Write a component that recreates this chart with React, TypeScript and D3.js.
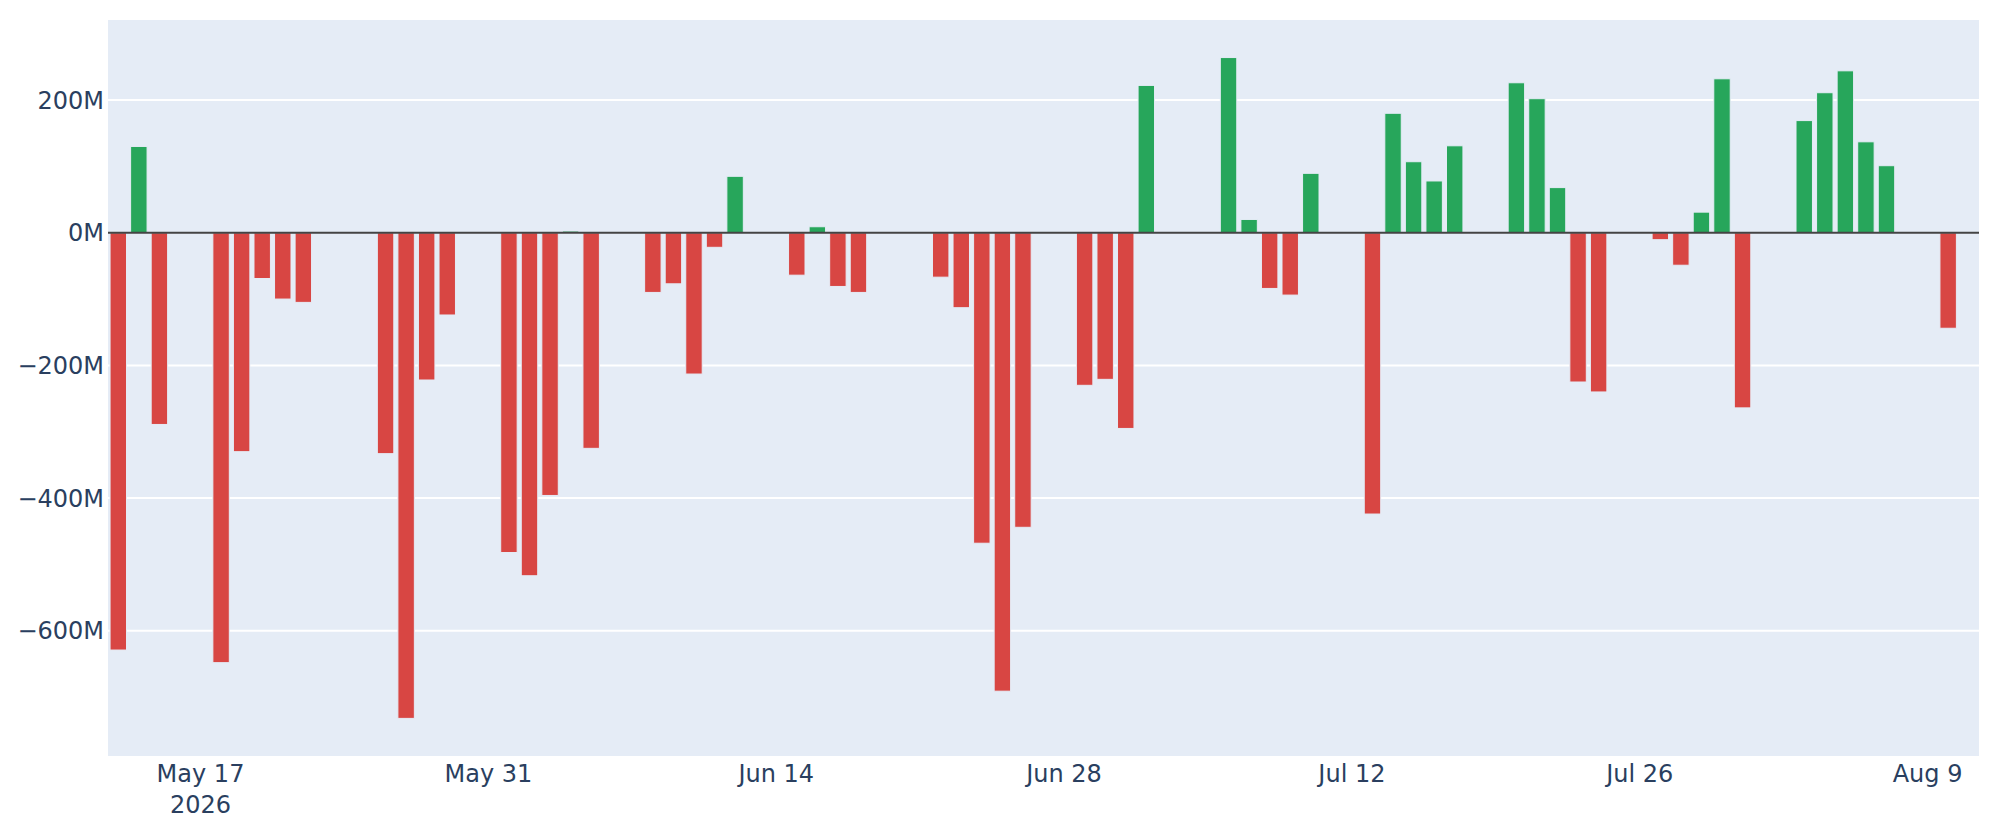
import React from 'react';
import * as d3 from 'd3';

// daily net values in millions, starting on firstDay
const firstDay = '2026-05-13';
const netValuesM: number[] = [
  -629, 130, -289, 0, 0, -648, -330, -69, -100, -105,
  0, 0, 0, -333, -732, -222, -124, 0, 0, -482,
  -517, -396, 2.5, -325, 0, 0, -90, -77, -213, -22,
  85, 0, 0, -64, 9, -81, -90, 0, 0, 0,
  -67, -113, -468, -691, -444, 0, 0, -230, -221, -295,
  222, 0, 0, 0, 264, 20, -84, -94, 89.5, 0,
  0, -424, 180, 107, 78, 131, 0, 0, 226, 202,
  68, -225, -240, 0, 0, -10.5, -49, 31, 232, -264,
  0, 0, 169, 211, 244, 137, 101, 0, 0, -144,
  0,
];
const yTicksM = [-600, -400, -200, 0, 200];
const xTickDates = ['2026-05-17', '2026-05-31', '2026-06-14', '2026-06-28', '2026-07-12', '2026-07-26', '2026-08-09'];
const xTickLabels = ['May 17', 'May 31', 'Jun 14', 'Jun 28', 'Jul 12', 'Jul 26', 'Aug 9'];
const yearLabel = '2026';

const W = 2000;
const H = 840;
const margin = { top: 20, right: 21, bottom: 84, left: 108 };
const UP = '#27a65b';
const DOWN = '#d84643';
const FONT = 'Verdana, "DejaVu Sans", sans-serif';
const TEXT = '#2a3f5f';

const parse = d3.utcParse('%Y-%m-%d');

const fmtM = (v: number) => (v === 0 ? '0M' : `${v < 0 ? '\u2212' : ''}${Math.abs(v)}M`);

const App: React.FC = () => {
  const start = parse(firstDay)!;
  const dates = netValuesM.map((_, i) => d3.utcDay.offset(start, i));
  const rows = dates.map((date, i) => ({ date, value: netValuesM[i] }));

  const x = d3
    .scaleUtc()
    .domain([d3.utcHour.offset(dates[0], -12), d3.utcHour.offset(dates[dates.length - 1], 12)])
    .range([margin.left, W - margin.right]);
  const y = d3
    .scaleLinear()
    .domain([-788.7, 320.6])
    .range([H - margin.bottom, margin.top]);

  const dayW = x(d3.utcDay.offset(start, 1)) - x(start);
  const barW = dayW * 0.8;

  return (
    <div style={{ position: 'absolute', left: 0, top: 0 }}>
      <svg width={W} height={H} style={{ display: 'block', background: '#fff' }}>
        <rect
          x={margin.left}
          y={margin.top}
          width={W - margin.left - margin.right}
          height={H - margin.top - margin.bottom}
          fill="#e5ecf6"
        />
        {yTicksM
          .filter(t => t !== 0)
          .map(t => (
            <line
              key={t}
              x1={margin.left}
              x2={W - margin.right}
              y1={y(t)}
              y2={y(t)}
              stroke="#fff"
              strokeWidth={2}
            />
          ))}
        {rows.map(d => {
          const y0 = y(0);
          const y1 = y(d.value);
          return (
            <rect
              key={d.date.toISOString()}
              x={x(d.date) - barW / 2}
              y={Math.min(y0, y1)}
              width={barW}
              height={Math.abs(y1 - y0)}
              fill={d.value >= 0 ? UP : DOWN}
              stroke="#e5ecf6"
              strokeWidth={1}
            />
          );
        })}
        <line
          x1={margin.left}
          x2={W - margin.right}
          y1={y(0)}
          y2={y(0)}
          stroke="#444"
          strokeWidth={2}
        />
        {yTicksM.map(t => (
          <text
            key={t}
            x={margin.left - 4}
            y={y(t)}
            dy="0.36em"
            textAnchor="end"
            fontFamily={FONT}
            fontSize={24}
            fill={TEXT}
          >
            {fmtM(t)}
          </text>
        ))}
        {xTickDates.map((s, i) => {
          const tx = x(parse(s)!);
          return (
            <text
              key={s}
              x={tx}
              y={H - margin.bottom + 26}
              textAnchor="middle"
              fontFamily={FONT}
              fontSize={24}
              fill={TEXT}
            >
              {xTickLabels[i]}
              {i === 0 && (
                <tspan x={tx} dy={31}>
                  {yearLabel}
                </tspan>
              )}
            </text>
          );
        })}
      </svg>
    </div>
  );
};

export default App;
